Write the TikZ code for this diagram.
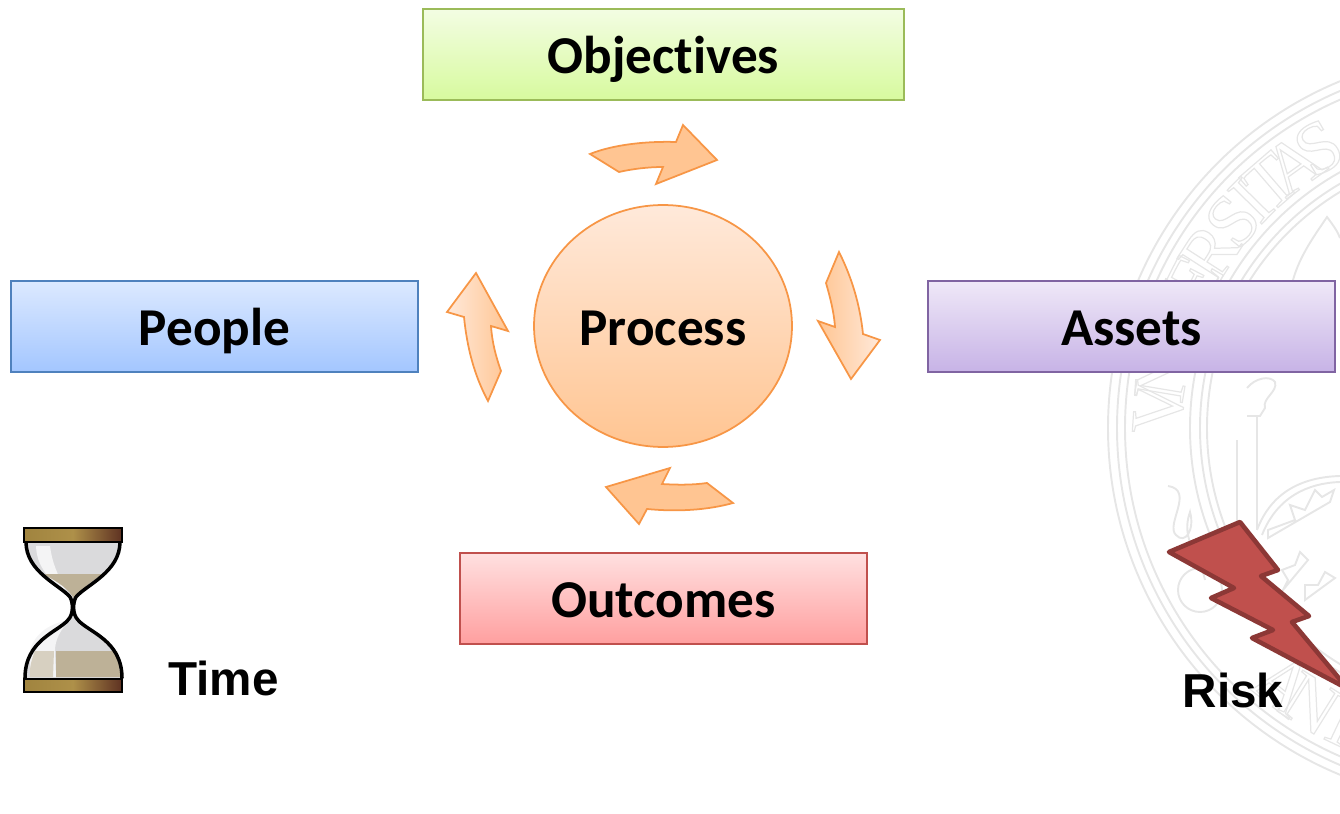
\documentclass[tikz,border=0pt]{standalone}
\usepackage{fontspec}
\usetikzlibrary{shapes.geometric}
\setmainfont[Ligatures={NoCommon}]{Carlito}
\newfontfamily\arialfont{Liberation Sans}
\newfontfamily\sealfont{Liberation Serif}
\definecolor{flowline}{HTML}{F79646}
\definecolor{flowlight}{HTML}{FFE9DA}
\definecolor{flowdark}{HTML}{FFC592}
\definecolor{sealgray}{HTML}{E6E6E6}
\definecolor{sandtan}{HTML}{BDB197}
\definecolor{glassgray}{HTML}{DADADC}
\definecolor{objline}{HTML}{9BBB59}
\definecolor{objtop}{HTML}{F3FDE3}
\definecolor{objbottom}{HTML}{D7FA9E}
\definecolor{peopleline}{HTML}{4F81BD}
\definecolor{peopletop}{HTML}{DCE9FF}
\definecolor{peoplebottom}{HTML}{A3C6FF}
\definecolor{assetline}{HTML}{8064A2}
\definecolor{assettop}{HTML}{EFE8F8}
\definecolor{assetbottom}{HTML}{C7B3E6}
\definecolor{outline}{HTML}{C0504D}
\definecolor{outtop}{HTML}{FFE0E0}
\definecolor{outbottom}{HTML}{FF9F9F}
\definecolor{boltline}{HTML}{8C3836}
\definecolor{barleft}{HTML}{A0843F}
\definecolor{barmid}{HTML}{AE9049}
\definecolor{barright}{HTML}{5E3122}
\newcommand{\sealtext}[1]{\special{pdf:code 1 Tr 0.7 w}#1\special{pdf:code 0 Tr 0.3985 w}}
\tikzset{
  labelfont/.style={font=\fontsize{30.3}{33}\selectfont\bfseries, text height=28pt, text depth=6pt},
  box/.style={rectangle, draw, line width=1pt, minimum height=1.82cm, minimum width=8.14cm, labelfont},
  flowarrow/.style={draw=flowline, line width=1pt, line join=miter},
  sealring/.style={draw=sealgray, line width=1.1pt},
  sealletter/.style={text=sealgray, font=\fontsize{42}{46}\sealfont, inner sep=0pt},
  caption/.style={font=\fontsize{27.1}{30}\arialfont\bfseries, inner sep=0pt, anchor=base west},
  capbar/.style={draw=black, line width=1.7pt, left color=barleft, right color=barright, middle color=barmid},
  glassline/.style={line width=2pt, line cap=round},
}
\begin{document}
\begin{tikzpicture}[x=0.02cm, y=-0.02cm]
\useasboundingbox (0, 0) rectangle (1340, 814);
\begin{scope}
\clip (0, 0) rectangle (1340, 814);
\begin{scope}[shift={(1483, 428)}]
\foreach \r in {375, 366, 358, 293, 283, 276}
  \draw [sealring] (0, 0) circle (\r);
\foreach \ch/\ang in {V/176.3, N/170.5, I/164.5, V/159, E/153, R/147.3, S/140.4, I/135.5, T/130.8, A/125.7, S/120.4}
  \node (seal\ang) [sealletter, rotate=\ang-90] at (-\ang:325) {\sealtext{\ch}};
\foreach \ch/\ang in {A/232, N/238, I/244.5}
  \node (seal\ang) [sealletter, rotate=\ang+90] at (-\ang:325) {\sealtext{\ch}};
\end{scope}
\draw [sealring] (1237, 440) -- (1237, 525);
\draw [sealring] (1257, 416) -- (1257, 530);
\draw [sealring] (1247, 416) -- (1260, 416) -- (1265, 408) .. controls (1262, 398) and (1278, 392) .. (1275, 382) .. controls (1270, 375) and (1255, 378) .. (1247, 388);
\draw [sealring] (1257, 530) .. controls (1272, 490) and (1305, 477) .. (1340, 476);
\draw [sealring] (1262, 535) .. controls (1277, 497) and (1308, 483) .. (1340, 482);
\draw [sealring] (1168, 486) .. controls (1195, 490) and (1165, 525) .. (1176, 535) .. controls (1185, 545) and (1195, 530) .. (1190, 512) .. controls (1180, 540) and (1200, 555) .. (1205, 580);
\draw [sealring] (1268, 538) -- (1330, 502) -- (1334, 490) -- (1322, 497) -- (1315, 490) -- (1305, 510) -- (1290, 505) -- (1295, 520) -- (1268, 530) -- cycle;
\draw [sealring] (1283, 590) -- (1308, 560) -- (1300, 552) -- (1295, 565) -- (1282, 570) -- (1288, 580) -- cycle;
\draw [sealring] (1305, 600) -- (1335, 578) -- (1325, 572) -- (1318, 585) -- (1305, 585) -- cycle;
\draw [sealring] (1293, 280) .. controls (1300, 255) and (1315, 235) .. (1327, 217) .. controls (1333, 225) and (1338, 232) .. (1340, 238);
\draw [sealring] (1200, 590) circle (22);
\end{scope}
\node (objectives) [box, draw=objline, top color=objtop, bottom color=objbottom, minimum width=9.62cm] at (663.5, 54.5) {Objectives};
\node (people) [box, draw=peopleline, top color=peopletop, bottom color=peoplebottom] at (214.5, 326.5) {People};
\node (assets) [box, draw=assetline, top color=assettop, bottom color=assetbottom] at (1131.5, 326.5) {Assets};
\node (outcomes) [box, draw=outline, top color=outtop, bottom color=outbottom] at (663.5, 598.5) {Outcomes};
\node (process) [ellipse, draw=flowline, line width=1pt, top color=flowlight, bottom color=flowdark, minimum width=5.16cm, minimum height=4.84cm, inner sep=0pt, labelfont] at (663, 326) {Process};
\draw [flowarrow, fill=flowdark] (590, 154) .. controls (612, 145) and (645, 141) .. (676, 142) -- (683, 125) -- (717, 160) -- (656, 184) -- (663, 167) .. controls (648, 167) and (632, 169) .. (619, 172) -- cycle;
\draw [flowarrow, left color=flowdark, right color=flowlight] (839, 252) .. controls (852, 278) and (860, 305) .. (863, 334) -- (880, 340) -- (851, 379) -- (818, 321) -- (835, 327) .. controls (834, 312) and (830, 297) .. (826, 283) -- cycle;
\draw [flowarrow, fill=flowdark] (733, 503) .. controls (708, 510) and (678, 512) .. (647, 509) -- (639, 524) -- (606, 487) -- (670, 468) -- (662, 484) .. controls (678, 485) and (693, 485) .. (707, 483) -- cycle;
\draw [flowarrow, left color=flowlight, right color=flowdark] (488, 401) .. controls (474, 375) and (467, 347) .. (464, 317) -- (447, 312) -- (476, 273) -- (508, 331) -- (491, 326) .. controls (492, 342) and (496, 357) .. (501, 371) -- cycle;
\fill [glassgray] (26, 542) .. controls (26, 572) and (60, 585) .. (70, 597) .. controls (73, 602) and (73, 614) .. (68, 620) .. controls (58, 632) and (25, 640) .. (25, 678) -- (122, 678) .. controls (122, 640) and (88, 632) .. (78, 620) .. controls (73, 614) and (73, 602) .. (76, 597) .. controls (86, 585) and (120, 572) .. (120, 542) -- cycle;
\fill [white!70!glassgray] (36, 546) -- (50, 546) .. controls (52, 562) and (57, 575) .. (71, 600) .. controls (55, 582) and (37, 572) .. (36, 546) -- cycle;
\fill [sandtan] (43, 574) -- (103, 574) .. controls (90, 582) and (80, 590) .. (75, 600) .. controls (68, 588) and (58, 582) .. (43, 574) -- cycle;
\fill [white!70!glassgray] (30, 650) .. controls (36, 630) and (55, 622) .. (70, 620) .. controls (60, 630) and (55, 640) .. (55, 651) -- (56, 677) -- (30, 677) -- cycle;
\fill [sandtan] (56, 651) -- (117, 651) .. controls (119, 660) and (120, 670) .. (120, 677) -- (56, 677) -- cycle;
\fill [sandtan!60!white] (35, 651) -- (54, 651) -- (53, 677) -- (30, 677) .. controls (29, 668) and (32, 658) .. (35, 651) -- cycle;
\draw [glassline] (26, 542) .. controls (26, 572) and (60, 585) .. (70, 597) .. controls (73, 602) and (74, 614) .. (68, 620) .. controls (58, 632) and (25, 640) .. (25, 678);
\draw [glassline] (120, 542) .. controls (120, 572) and (86, 585) .. (76, 597) .. controls (73, 602) and (72, 614) .. (78, 620) .. controls (88, 632) and (122, 640) .. (122, 678);
\draw [capbar] (24, 528) rectangle (122, 542);
\draw [capbar] (24, 679) rectangle (122, 692);
\node (time) [caption] at (168, 695) {Time};
\draw [draw=boltline, line width=2.6pt, fill=outline, line join=round] (1240, 522) -- (1169, 552) -- (1234, 588) -- (1211, 598) -- (1273, 630) -- (1252, 638) -- (1348, 689) -- (1292, 622) -- (1309, 616) -- (1261, 576) -- (1278, 570) -- cycle;
\node (risk) [caption] at (1182.5, 707) {Risk};
\end{tikzpicture}
\end{document}
